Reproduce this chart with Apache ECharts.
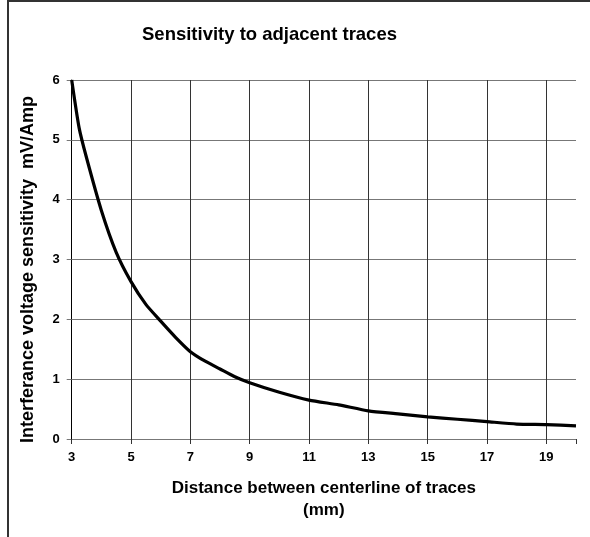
<!DOCTYPE html>
<html>
<head>
<meta charset="utf-8">
<script src="https://cdn.jsdelivr.net/npm/echarts@6/dist/echarts.min.js"></script>
<style>
  html, body { margin: 0; padding: 0; background: #fff; }
  #chart { width: 590px; height: 537px; }
</style>
</head>
<body>
<div id="chart"></div>
<script>
// distance between centerlines (mm) and the sensitivity (mV/Amp)
const distances = [3, 3.25, 3.5, 4, 4.5, 5, 5.5, 6, 6.5, 7, 7.5, 8, 8.5, 9, 10, 11, 12, 13, 14, 15, 16, 17, 18, 19, 20]
const sensitivity = [6.0, 5.2, 4.7, 3.82, 3.12, 2.63, 2.25, 1.97, 1.7, 1.46, 1.3, 1.17, 1.04, 0.94, 0.78, 0.65, 0.57, 0.47, 0.42, 0.37, 0.33, 0.29, 0.25, 0.24, 0.22]

const titleText = 'Sensitivity to adjacent traces'
const xName = 'Distance between centerline of traces\n(mm)'
const yName = 'Interferance voltage sensitivity  mV/Amp'

const font = '"Liberation Sans", Arial, sans-serif'

const chart = echarts.init(document.getElementById('chart'))

const option = {
    animation: false,
    backgroundColor: '#fff',
    title: {
        text: titleText,
        left: 137,
        top: 20,
        textStyle: { fontFamily: font, fontSize: 18.5, fontWeight: 'bold', color: '#000' }
    },
    grid: {
        left: 71.7,
        right: 14,
        top: 80,
        bottom: 98
    },
    xAxis: {
        type: 'value',
        min: 3,
        max: 20,
        interval: 2,
        name: xName,
        nameLocation: 'middle',
        nameGap: 38,
        nameTextStyle: { fontFamily: font, fontSize: 17, fontWeight: 'bold', color: '#000', lineHeight: 22 },
        axisLine: { lineStyle: { color: '#777', width: 1 } },
        axisTick: { show: true, length: 5, lineStyle: { color: '#333' } },
        axisLabel: {
            fontFamily: font, fontSize: 13, fontWeight: 'bold', color: '#000', margin: 12,
            formatter: v => (v === 20 ? '' : String(v))
        },
        splitLine: { show: true, showMaxLine: false, lineStyle: { color: '#333', width: 1 } }
    },
    yAxis: {
        type: 'value',
        min: 0,
        max: 6,
        interval: 1,
        name: yName,
        nameLocation: 'middle',
        nameGap: 35,
        nameRotate: 90,
        nameTextStyle: { fontFamily: font, fontSize: 18, fontWeight: 'bold', color: '#000', padding: [0, 20, 0, 0] },
        axisLine: { show: true, lineStyle: { color: '#000', width: 1 } },
        axisTick: { show: true, length: 5, lineStyle: { color: '#777' } },
        axisLabel: { fontFamily: font, fontSize: 13, fontWeight: 'bold', color: '#000', margin: 12 },
        splitLine: { show: true, lineStyle: { color: '#777', width: 1 } }
    },
    // outer chart frame (only left and top edges are inside the picture)
    graphic: [
        {
            type: 'polyline',
            shape: { points: [[8, 537], [8, 1], [590, 1]] },
            style: { stroke: '#333', lineWidth: 2, fill: null },
            silent: true
        }
    ],
    series: [
        {
            type: 'line',
            data: distances.map((d, i) => [d, sensitivity[i]]),
            showSymbol: false,
            smooth: 0.2,
            lineStyle: { color: '#000', width: 3.2 }
        }
    ]
}

option && chart.setOption(option)
</script>
</body>
</html>
